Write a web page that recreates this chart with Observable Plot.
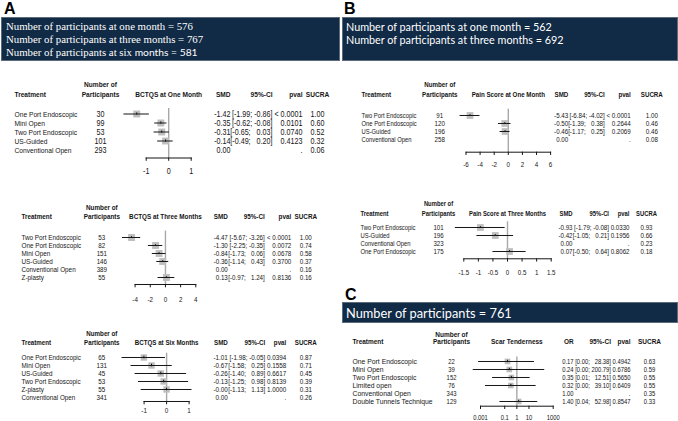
<!DOCTYPE html>
<html><head><meta charset="utf-8">
<script src="https://cdn.jsdelivr.net/npm/d3@7"></script>
<script src="https://cdn.jsdelivr.net/npm/@observablehq/plot@0.6"></script>
<style>
html,body{margin:0;padding:0;background:#fff;}
#root{position:relative;width:678px;height:421px;overflow:hidden;background:#fff;}
.lbl{position:absolute;font:bold 16px/16px 'Liberation Sans',Arial,sans-serif;color:#000;}
.box{position:absolute;background:#112a45;border:1px solid #5b6b7a;box-sizing:border-box;}
.ln{position:absolute;white-space:pre;color:#fff;}
.serif{font-family:'Liberation Serif','Times New Roman',serif;font-size:12px;}
.sans{font-family:Lato,'Open Sans',sans-serif;font-size:12px;}
svg.pl{position:absolute;}
</style></head><body><div id="root"></div>
<script>
// ---------- DATA ----------
// Panel A1: BCTQS at One Month
const a1Title = "BCTQS at One Month";
const a1Treat = ["One Port Endoscopic","Mini Open","Two Port Endoscopic","US-Guided","Conventional Open"];
const a1N = [30,99,53,101,293];
const a1Est = [-1.42,-0.35,-0.31,-0.14,0.00];
const a1Lo = [-1.99,-0.62,-0.65,-0.49,null];
const a1Hi = [-0.86,-0.08,0.03,0.20,null];
const a1P = ["< 0.0001","0.0101","0.0740","0.4123","."];
const a1Sucra = [1.00,0.60,0.52,0.32,0.06];
const a1Ticks = [-1,0,1];
// Panel A2: BCTQS at Three Months
const a2Title = "BCTQS at Three Months";
const a2Treat = ["Two Port Endoscopic","One Port Endoscopic","Mini Open","US-Guided","Conventional Open","Z-plasty"];
const a2N = [53,82,151,146,389,55];
const a2Est = [-4.47,-1.30,-0.84,-0.36,0.00,0.13];
const a2Lo = [-5.67,-2.25,-1.73,-1.14,null,-0.97];
const a2Hi = [-3.26,-0.35,0.06,0.43,null,1.24];
const a2P = ["< 0.0001","0.0072","0.0678","0.3700",".","0.8136"];
const a2Sucra = [1.00,0.74,0.58,0.37,0.16,0.16];
const a2Ticks = [-4,-2,0,2,4];
// Panel A3: BCTQS at Six Months
const a3Title = "BCTQS at Six Months";
const a3Treat = ["One Port Endoscopic","Mini Open","US-Guided","Two Port Endoscopic","Z-plasty","Conventional Open"];
const a3N = [65,131,45,53,55,341];
const a3Est = [-1.01,-0.67,-0.26,-0.13,-0.001,0.00];
const a3Lo = [-1.98,-1.58,-1.40,-1.25,-1.13,null];
const a3Hi = [-0.05,0.25,0.89,0.98,1.13,null];
const a3P = ["0.0394","0.1558","0.6617","0.8139","1.0000","."];
const a3Sucra = [0.87,0.71,0.45,0.39,0.31,0.26];
const a3Ticks = [-1,0,1];
// Panel B1: Pain Score at One Month
const b1Title = "Pain Score at One Month";
const b1Treat = ["Two Port Endoscopic","One Port Endoscopic","US-Guided","Conventional Open"];
const b1N = [91,120,196,258];
const b1Est = [-5.43,-0.50,-0.46,0.00];
const b1Lo = [-6.84,-1.39,-1.17,null];
const b1Hi = [-4.02,0.38,0.25,null];
const b1P = ["< 0.0001","0.2644","0.2069","."];
const b1Sucra = [1.00,0.46,0.46,0.08];
const b1Ticks = [-6,-4,-2,0,2,4,6];
// Panel B2: Pain Score at Three Months
const b2Title = "Pain Score at Three Months";
const b2Treat = ["Two Port Endoscopic","US-Guided","Conventional Open","One Port Endoscopic"];
const b2N = [101,196,323,175];
const b2Est = [-0.93,-0.42,0.00,0.07];
const b2Lo = [-1.79,-1.05,null,-0.50];
const b2Hi = [-0.08,0.21,null,0.64];
const b2P = ["0.0330","0.1956",".","0.8062"];
const b2Sucra = [0.93,0.66,0.23,0.18];
const b2Ticks = [-1.5,-1,-0.5,0,0.5,1,1.5];
// Panel C: Scar Tenderness (odds ratio, log scale)
const cTitle = "Scar Tenderness";
const cTreat = ["One Port Endoscopic","Mini Open","Two Port Endoscopic","Limited open","Conventional Open","Double Tunnels Technique"];
const cN = [22,39,152,76,343,129];
const cEst = [0.17,0.24,0.35,0.32,1.00,1.40];
const cLo = [0.0007,0.00025,0.01,0.0026,null,0.04];
const cHi = [28.38,200.79,12.51,39.10,null,52.98];
const cP = ["0.4942","0.6786","0.5650","0.6409",".","0.8547"];
const cSucra = [0.63,0.59,0.55,0.55,0.35,0.33];
const cTicks = [0.001,0.1,1,10,1000];
// Banner texts
const aLines = ["Number of participants at one month = 576","Number of participants at three months = 767"];
const aLine3 = ["Number of participants at six ","months = 581"];
const bLines = ["Number of participants at one month = 562","Number of participants at three months = 692"];
const cLines = ["Number of participants = 761"];

// ---------- LAYOUT ----------
const root = document.getElementById("root");
const FONT = "'Liberation Sans',Arial,sans-serif";
const INK = "#151515";

function el(cls, css, txt, parent = root) {
  const e = document.createElement(parent === root ? "div" : "span");
  e.className = cls; Object.assign(e.style, css); if (txt != null) e.textContent = txt;
  parent.appendChild(e); return e;
}
// scale a text's font so that it spans the width it has in the reference
function fit(e, target) {
  const fs = parseFloat(getComputedStyle(e).fontSize);
  const w = e.getBoundingClientRect().width;
  const f = fs * target / w;
  e.style.fontSize = f + "px";
  return f;
}
el("lbl", {left:"4px", top:"1px"}, "A");
el("lbl", {left:"344px", top:"1px"}, "B");
el("lbl", {left:"345px", top:"287px"}, "C");
el("box", {left:"1px", top:"17px", width:"339px", height:"44px"});
el("box", {left:"342px", top:"17px", width:"336px", height:"44px"});
el("box", {left:"342px", top:"302px", width:"336px", height:"21px"});
function line(x, cy, lh, cls, txt) { return el("ln " + cls, {left:x+"px", top:(cy - lh/2)+"px", lineHeight:lh+"px"}, txt); }
const la1 = line(6, 26.5, 13, "serif", aLines[0]);
const fSerif = fit(la1, 187);
const la2 = line(6, 39.5, 13, "serif", aLines[1]); la2.style.fontSize = fSerif + "px";
const la3 = line(6, 52.5, 13, "serif", aLine3[0]); la3.style.fontSize = fSerif + "px";
const sp = el("sans", {}, aLine3[1], la3); fit(sp, 63);
const lb1 = line(346, 26.7, 13, "sans", bLines[0]);
const fSans = fit(lb1, 206);
const lb2 = line(346, 39.2, 13, "sans", bLines[1]); lb2.style.fontSize = fSans + "px";
const lc1 = line(346, 312.5, 18, "sans", cLines[0]); fit(lc1, 166);

function fmt2(v) { return (v < 0 ? "-" : "") + Math.abs(v).toFixed(2); }

function forest(d, c) {
  const n = d.treat.length;
  const rows = d.treat.map((t, i) => ({t, n: d.n[i], est: d.est[i], lo: d.lo[i], hi: d.hi[i], p: d.p[i], s: d.s[i]}));
  const loS = rows.map(r => r.lo == null ? "" : fmt2(r.lo));
  const hiS = rows.map(r => r.hi == null ? "" : fmt2(r.hi));
  const wl = d3.max(loS, s => s.length), wh = d3.max(hiS, s => s.length);
  rows.forEach((r, i) => {
    r.ci = r.lo == null ? "" : "[" + loS[i].padStart(wl, "\u2007") + "; " + hiS[i].padStart(wh, "\u2007") + "]";
    r.estS = fmt2(r.est);
  });
  const withCI = rows.filter(r => r.lo != null);
  const top = c.hy1 - 8, left = c.treatX - 4, right = c.right;
  const width = right - left, height = c.labelY + 8 - top;
  const marginTop = c.row0 - c.step / 2 - top;
  const marginBottom = top + height - c.axisY;
  const marginLeft = c.fL - left, marginRight = right - c.fR;
  const insetBottom = c.axisY - (c.row0 + (n - 0.5) * c.step);
  const dx = px => px - c.fL;
  const hdy1 = c.hy1 - (c.row0 - c.step / 2);
  const hdy2 = c.hy2 - (c.row0 - c.step / 2);
  const tickSize = 3.3;
  const tickPadding = c.labelY - c.axisY - tickSize - 0.35 * c.fsNum;
  const col = (key, px, anchor, fs) => Plot.text(rows, {text: key, y: "t", frameAnchor: "left", dx: dx(px), textAnchor: anchor, lineAnchor: "middle", fill: INK, fontSize: fs});
  const hdr = (txt, px, anchor, dyv) => Plot.text([txt], {text: d => d, frameAnchor: "top-left", dx: dx(px), dy: dyv, textAnchor: anchor, lineAnchor: "middle", fontWeight: "bold", fill: INK, fontSize: c.fsHdr});
  const headers = ["Treatment", "Number of", "Participants", d.title, d.eff, "95%-CI", "pval", "SUCRA"];
  const svg = Plot.plot({
    width, height, marginTop, marginBottom, marginLeft, marginRight,
    style: {fontFamily: FONT, fontSize: c.fsNum + "px", color: INK, background: "transparent", overflow: "visible", whiteSpace: "pre"},
    x: {type: c.log ? "log" : "linear", domain: [d.ticks[0], d.ticks[d.ticks.length - 1]]},
    y: {type: "band", domain: d.treat, padding: 0, insetBottom, axis: null},
    marks: [
      Plot.ruleX([c.log ? 1 : 0], {stroke: "#a8a8a8", strokeWidth: 1.4}),
      Plot.frame({anchor: "bottom", stroke: INK}),
      Plot.axisX({ticks: d.ticks, tickSize, tickPadding, tickFormat: v => String(v), fontSize: c.fsNum, stroke: INK, fill: INK}),
      Plot.dot(withCI, {x: "est", y: "t", symbol: "square", r: c.r, fill: "#bebebe", stroke: null}),
      Plot.ruleY(withCI, {y: "t", x1: "lo", x2: "hi", stroke: INK, strokeWidth: 1}),
      Plot.tickX(withCI, {x: "est", y: "t", insetTop: c.step / 2 - 1.3, insetBottom: c.step / 2 - 1.3, stroke: INK}),
      col("t", c.treatX, "start", c.fsName),
      col(r => String(r.n), c.partX, "middle", c.fsNum),
      col("estS", c.smdX, "end", c.fsNum),
      col("ci", c.ciX, "end", c.fsNum),
      col("p", c.pX, "end", c.fsNum),
      col(r => r.s.toFixed(2), c.sX, "middle", c.fsNum),
      hdr(headers[0], c.treatX, "start", hdy2),
      hdr(headers[1], c.partX, "middle", hdy1),
      hdr(headers[2], c.partX, "middle", hdy2),
      hdr(headers[3], (c.fL + c.fR) / 2, "middle", hdy2),
      hdr(headers[4], c.smdX, "end", hdy2),
      hdr(headers[5], c.ciX, "end", hdy2),
      hdr(headers[6], c.pX, "end", hdy2),
      hdr(headers[7], c.sX, "middle", hdy2)
    ]
  });
  svg.classList.add("pl");
  svg.style.left = left + "px"; svg.style.top = top + "px";
  root.appendChild(svg);
  // the reference uses a narrow face: compress labels horizontally about their anchors,
  // by the ratio that makes a sample name and a sample interval as wide as in the reference
  const texts = [...svg.querySelectorAll("text")];
  const clamp = v => Math.max(0.6, Math.min(1, v));
  const nameEl = texts.find(t => t.textContent === c.nameRef);
  const ciEl = texts.find(t => t.textContent === rows[0].ci);
  const sqName = nameEl ? clamp(c.nameW / nameEl.getComputedTextLength()) : 0.82;
  const sqNum = ciEl ? clamp(c.ciW / ciEl.getComputedTextLength()) : 0.82;
  const nameSet = new Set([...d.treat, ...headers]);
  texts.forEach(t => {
    const s = nameSet.has(t.textContent) ? sqName : sqNum;
    t.setAttribute("transform", (t.getAttribute("transform") || "") + ` scale(${s},1)`);
  });
}

forest({title: a1Title, eff: "SMD", treat: a1Treat, n: a1N, est: a1Est, lo: a1Lo, hi: a1Hi, p: a1P, s: a1Sucra, ticks: a1Ticks},
  {right: 336, treatX: 14, partX: 100, fL: 145.7, fR: 190.7, smdX: 230, ciX: 272, pX: 302, sX: 317, hy1: 84, hy2: 94, row0: 112.8, step: 9.4, axisY: 157.5, labelY: 170, fsName: 8.1, fsNum: 8.3, fsHdr: 8, r: 3.9, nameRef: "One Port Endoscopic", nameW: 63, ciW: 40.6});
forest({title: a2Title, eff: "SMD", treat: a2Treat, n: a2N, est: a2Est, lo: a2Lo, hi: a2Hi, p: a2P, s: a2Sucra, ticks: a2Ticks},
  {right: 336, treatX: 20.7, partX: 101, fL: 134.3, fR: 195, smdX: 227, ciX: 264, pX: 290.5, sX: 305, hy1: 207, hy2: 216, row0: 235, step: 8.9, axisY: 284, labelY: 299, fsName: 7.4, fsNum: 7.5, fsHdr: 7.4, r: 3.9, nameRef: "Two Port Endoscopic", nameW: 59.3, ciW: 35.2});
forest({title: a3Title, eff: "SMD", treat: a3Treat, n: a3N, est: a3Est, lo: a3Lo, hi: a3Hi, p: a3P, s: a3Sucra, ticks: a3Ticks},
  {right: 336, treatX: 20.7, partX: 101, fL: 143.3, fR: 188.3, smdX: 227, ciX: 264.5, pX: 285.5, sX: 305, hy1: 333, hy2: 342, row0: 356.7, step: 8, axisY: 401, labelY: 410, fsName: 7.6, fsNum: 7.6, fsHdr: 7.5, r: 3.6, nameRef: "One Port Endoscopic", nameW: 59.3, ciW: 35.7});
forest({title: b1Title, eff: "SMD", treat: b1Treat, n: b1N, est: b1Est, lo: b1Lo, hi: b1Hi, p: b1P, s: b1Sucra, ticks: b1Ticks},
  {right: 676, treatX: 360.7, partX: 439, fL: 465.2, fR: 549.8, smdX: 567.5, ciX: 604, pX: 630, sX: 651, hy1: 84, hy2: 94, row0: 113.3, step: 8.9, axisY: 151.7, labelY: 164.3, fsName: 7.0, fsNum: 7.4, fsHdr: 7.4, r: 3.8, nameRef: "Two Port Endoscopic", nameW: 55, ciW: 35.2});
forest({title: b2Title, eff: "SMD", treat: b2Treat, n: b2N, est: b2Est, lo: b2Lo, hi: b2Hi, p: b2P, s: b2Sucra, ticks: b2Ticks},
  {right: 676, treatX: 360, partX: 438, fL: 463.3, fR: 550.7, smdX: 572, ciX: 608.5, pX: 629, sX: 646, hy1: 203, hy2: 213, row0: 225.7, step: 8.9, axisY: 258.3, labelY: 271.7, fsName: 7.0, fsNum: 7.4, fsHdr: 7.0, r: 3.8, nameRef: "Two Port Endoscopic", nameW: 55, ciW: 34.8});
forest({title: cTitle, eff: "OR", treat: cTreat, n: cN, est: cEst, lo: cLo, hi: cHi, p: cP, s: cSucra, ticks: cTicks},
  {log: true, right: 676, treatX: 352, partX: 451, fL: 480, fR: 552.7, smdX: 573.1, ciX: 610.5, pX: 630, sX: 649, hy1: 334.3, hy2: 341.7, row0: 361, step: 8.3, axisY: 406, labelY: 417, fsName: 7.5, fsNum: 7.3, fsHdr: 7.15, r: 3.2, nameRef: "Double Tunnels Technique", nameW: 80, ciW: 35.8});
</script></body></html>
